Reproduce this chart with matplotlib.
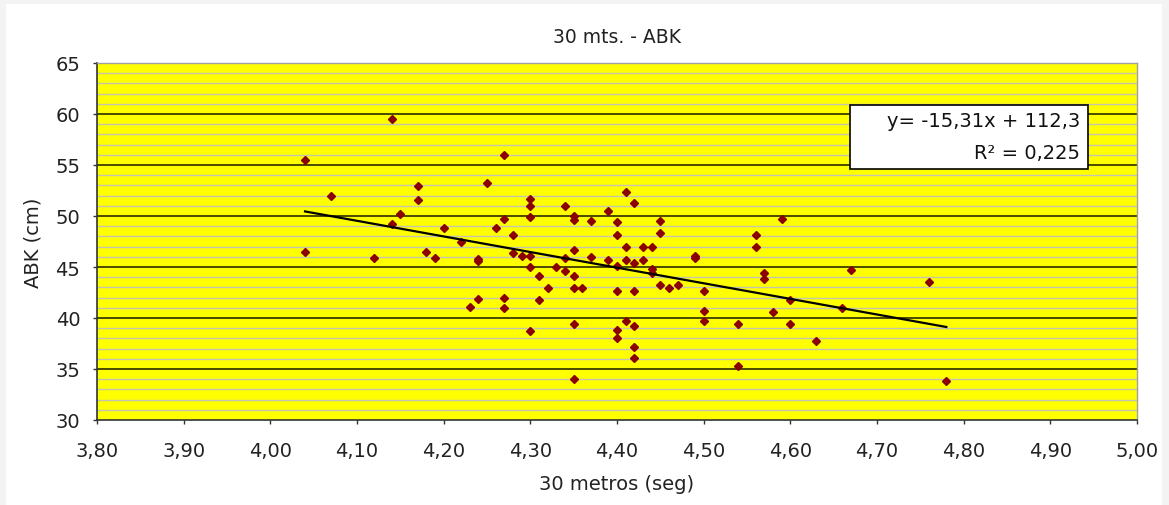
import matplotlib.pyplot as plt
from matplotlib.patches import Rectangle
from matplotlib.ticker import MultipleLocator, FuncFormatter

# tiempos en 30 metros (seg) y salto ABK (cm)
tiempo = [4.04, 4.04, 4.07, 4.12, 4.14, 4.14, 4.15, 4.17, 4.17, 4.18,
          4.19, 4.20, 4.22, 4.23, 4.24, 4.24, 4.24, 4.25, 4.26, 4.27,
          4.27, 4.27, 4.27, 4.28, 4.28, 4.29, 4.30, 4.30, 4.30, 4.30,
          4.30, 4.30, 4.31, 4.31, 4.32, 4.33, 4.34, 4.34, 4.34, 4.35,
          4.35, 4.35, 4.35, 4.35, 4.35, 4.35, 4.36, 4.37, 4.37, 4.39,
          4.39, 4.40, 4.40, 4.40, 4.40, 4.40, 4.40, 4.41, 4.41, 4.41,
          4.41, 4.42, 4.42, 4.42, 4.42, 4.42, 4.42, 4.43, 4.43, 4.44,
          4.44, 4.44, 4.45, 4.45, 4.45, 4.46, 4.47, 4.49, 4.49, 4.50,
          4.50, 4.50, 4.54, 4.54, 4.56, 4.56, 4.57, 4.57, 4.58, 4.59,
          4.60, 4.60, 4.63, 4.66, 4.67, 4.76, 4.78]
abk = [55.5, 46.5, 52.0, 45.9, 59.5, 49.2, 50.2, 52.9, 51.6, 46.5,
       45.9, 48.8, 47.5, 41.1, 45.8, 45.6, 41.9, 53.2, 48.8, 56.0,
       49.7, 42.0, 41.0, 48.1, 46.4, 46.1, 51.7, 51.0, 49.9, 46.1,
       45.0, 38.7, 44.1, 41.8, 42.9, 45.0, 51.0, 45.9, 44.6, 50.0,
       49.6, 46.7, 44.1, 42.9, 39.4, 34.0, 42.9, 49.5, 46.0, 50.5,
       45.7, 49.4, 48.1, 45.1, 42.6, 38.8, 38.0, 52.4, 47.0, 45.7,
       39.7, 51.3, 45.4, 42.6, 39.2, 37.2, 36.1, 47.0, 45.7, 47.0,
       44.8, 44.4, 49.5, 48.3, 43.2, 42.9, 43.2, 46.1, 45.9, 42.6,
       40.7, 39.7, 39.4, 35.3, 48.1, 47.0, 44.4, 43.8, 40.6, 49.7,
       41.8, 39.4, 37.7, 41.0, 44.7, 43.5, 33.8]

pendiente = -15.31
ordenada = 112.3
r2 = 0.225

fig = plt.figure(figsize=(11.69, 5.06), dpi=100, facecolor='#f3f3f3')
fondo = Rectangle((6 / 1169, 0), 1156 / 1169, 501 / 506,
                  transform=fig.transFigure, facecolor='white',
                  edgecolor='none', zorder=-10)
fig.add_artist(fondo)

ax = fig.add_axes([97 / 1169, 1 - 421 / 506, 1040 / 1169, 357 / 506])
ax.set_facecolor('#ffff00')

# lineas de division: menores cada 1 cm, mayores cada 5 cm
for v in range(31, 65):
    if v % 5:
        ax.axhline(v, color='#c4c4b4', lw=1.0, zorder=1)
for v in range(35, 65, 5):
    ax.axhline(v, color='#1a1a00', lw=1.1, zorder=1)

ax.plot(tiempo, abk, 'D', color='#8b0000', markersize=4.4, zorder=3)

# recta de tendencia
x0, x1 = min(tiempo), max(tiempo)
ax.plot([x0, x1], [pendiente * x0 + ordenada, pendiente * x1 + ordenada],
        color='black', lw=1.6, zorder=4)

ax.set_xlim(3.8, 5.0)
ax.set_ylim(30, 65)
ax.xaxis.set_major_locator(MultipleLocator(0.1))
ax.yaxis.set_major_locator(MultipleLocator(5))
ax.xaxis.set_major_formatter(FuncFormatter(lambda v, p: f'{v:.2f}'.replace('.', ',')))
ax.yaxis.set_major_formatter(FuncFormatter(lambda v, p: f'{v:.0f}'))
ax.tick_params(direction='out', length=3, width=1, color='#333333',
               labelsize=14, labelcolor='#222222')
ax.tick_params(axis='x', pad=12)
ax.tick_params(axis='y', pad=9)

for s in ['left', 'bottom']:
    ax.spines[s].set_color('#333333')
    ax.spines[s].set_linewidth(1.2)
for s in ['top', 'right']:
    ax.spines[s].set_color('#a0a0a0')
    ax.spines[s].set_linewidth(1.0)

ax.set_title('30 mts. - ABK', fontsize=13.5, color='#222222', pad=15)
ax.set_xlabel('30 metros (seg)', fontsize=14, color='#222222', labelpad=10)
ax.set_ylabel('ABK (cm)', fontsize=14, color='#222222', labelpad=9)

# recuadro con la ecuacion de la recta
ax.add_patch(Rectangle((0.724, 0.703), 0.229, 0.179, transform=ax.transAxes,
                       facecolor='white', edgecolor='black', lw=1.2, zorder=5))
ecuacion = f'y= {pendiente:.2f}x + {ordenada:.1f}'.replace('.', ',')
ax.text(0.945, 0.838, ecuacion, transform=ax.transAxes, ha='right', va='center',
        fontsize=14, color='#111111', zorder=6)
ax.text(0.945, 0.750, f'R² = {r2:.3f}'.replace('.', ','), transform=ax.transAxes,
        ha='right', va='center', fontsize=14, color='#111111', zorder=6)

fig.savefig('out.png', dpi=100, facecolor=fig.get_facecolor())
